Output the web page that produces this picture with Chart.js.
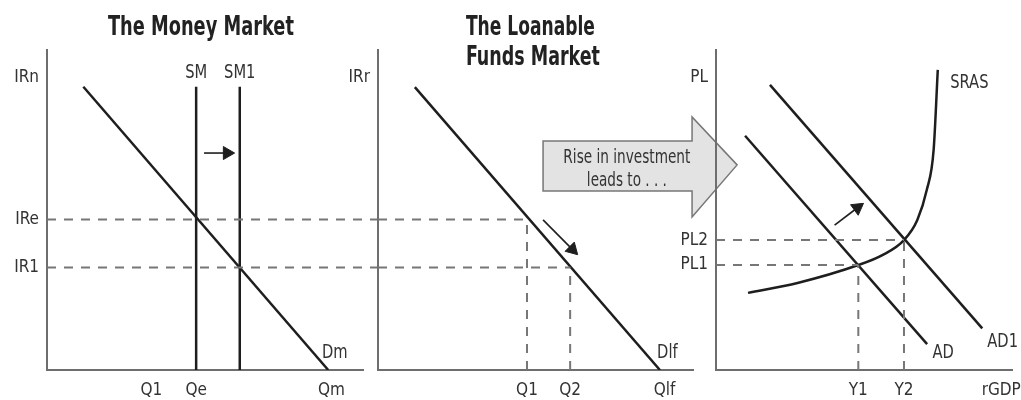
<!DOCTYPE html>
<html>
<head>
<meta charset="utf-8">
<script src="https://cdn.jsdelivr.net/npm/chart.js@4.4.0/dist/chart.umd.min.js"></script>
<style>
  body { margin: 0; background: #fff; }
  #wrap { position: relative; width: 1021px; height: 400px; }
  #wrap canvas { position: absolute; left: 0; top: 0; }
</style>
</head>
<body>
<div id="wrap">
  <canvas id="money" width="1021" height="400"></canvas>
  <canvas id="loanable" width="1021" height="400"></canvas>
  <canvas id="adas" width="1021" height="400"></canvas>
</div>
<script>
// --- money market ---
var moneyXLabels = ['Q1', 'Qe', 'Qm'];
var moneyXValues = [3.3, 4.72, 9.0];
var moneyYLabels = ['IRn', 'IRe', 'IR1'];
var moneyYValues = [9.15, 4.7, 3.2];
var moneyDemand = [[1.15, 8.85], [8.9, 0]];
var moneySupply = [4.72, 6.1];          // SM, SM1
var moneySupplyTop = 8.85;

// --- loanable funds market ---
var fundsXLabels = ['Q1', 'Q2', 'Qlf'];
var fundsXValues = [4.73, 6.1, 9.1];
var fundsYLabels = ['IRr'];
var fundsYValues = [9.15];
var fundsDemand = [[1.17, 8.84], [8.95, 0]];

// --- AD / AS ---
var adasXLabels = ['Y1', 'Y2', 'rGDP'];
var adasXValues = [4.8, 6.34, 9.62];
var adasYLabels = ['PL', 'PL2', 'PL1'];
var adasYValues = [9.15, 4.06, 3.28];
var aggDemand = [[0.98, 7.32], [7.12, 0.81]];
var aggDemand1 = [[1.82, 8.91], [8.98, 1.3]];
var sras = [[1.08, 2.41], [2.75, 2.72], [4.8, 3.28], [5.61, 3.59], [6.34, 4.06],
            [6.79, 4.69], [7.11, 5.63], [7.34, 6.88], [7.48, 9.38]];

var FONT = "'Liberation Sans Narrow', 'DejaVu Sans Condensed', sans-serif";
var INK = '#1e1e1e';
var TEXT = '#333';
var DASH = '#777';

function pts(list) {
  return list.map(function (p) { return { x: p[0], y: p[1] }; });
}

function curve(list, extra) {
  return Object.assign({
    data: pts(list), showLine: true, borderColor: INK, borderWidth: 2.5,
    pointRadius: 0, tension: 0, fill: false
  }, extra || {});
}

function guide(list) {
  return curve(list, { borderColor: DASH, borderWidth: 2, borderDash: [9, 8], clip: false });
}

// small shift arrow: line with a triangle head on the last point
function shiftArrow(list, angle) {
  return curve(list, {
    borderWidth: 1.6,
    pointRadius: [0, 7.5],
    pointStyle: 'triangle',
    rotation: [0, angle],
    pointBackgroundColor: INK,
    pointBorderColor: INK,
    pointBorderWidth: 1
  });
}

// text at data coordinates; "width" squeezes the string horizontally to a set width,
// otherwise a fixed squeeze gives the narrow look
var textPlugin = {
  id: 'panelText',
  afterDraw: function (chart, args, opts) {
    var ctx = chart.ctx, sx = chart.scales.x, sy = chart.scales.y;
    (opts.items || []).forEach(function (t) {
      ctx.save();
      ctx.font = t.font || ('19px ' + FONT);
      ctx.fillStyle = t.color || TEXT;
      ctx.textAlign = t.align || 'left';
      ctx.textBaseline = 'alphabetic';
      var k = t.width ? t.width / ctx.measureText(t.text).width : 0.86;
      ctx.translate(sx.getPixelForValue(t.x), sy.getPixelForValue(t.y));
      ctx.scale(k, 1);
      ctx.fillText(t.text, 0, 0);
      ctx.restore();
    });
  }
};

var blockArrowPlugin = {
  id: 'blockArrow',
  beforeDatasetsDraw: function (chart, args, opts) {
    if (!opts.shape) return;
    var ctx = chart.ctx, sx = chart.scales.x, sy = chart.scales.y;
    ctx.save();
    ctx.beginPath();
    opts.shape.forEach(function (p, i) {
      var px = sx.getPixelForValue(p[0]), py = sy.getPixelForValue(p[1]);
      if (i === 0) ctx.moveTo(px, py); else ctx.lineTo(px, py);
    });
    ctx.closePath();
    ctx.fillStyle = '#e3e3e3';
    ctx.fill();
    ctx.lineWidth = 1.5;
    ctx.strokeStyle = '#777';
    ctx.stroke();
    ctx.restore();
  }
};

function panel(id, area, xLabels, xValues, yLabels, yValues, datasets, texts, arrow) {
  var tickFont = { family: FONT, size: 17 };
  return new Chart(document.getElementById(id), {
    type: 'scatter',
    data: { datasets: datasets },
    options: {
      responsive: false,
      animation: false,
      events: [],
      layout: { padding: { left: 0, top: area.top, right: 1021 - area.right, bottom: 0 } },
      scales: {
        x: {
          type: 'linear', min: 0, max: 10,
          grid: { display: false, drawTicks: false },
          border: { display: true, color: '#6e6e6e', width: 2 },
          afterBuildTicks: function (s) { s.ticks = xValues.map(function (v) { return { value: v }; }); },
          afterFit: function (s) { s.height = 400 - area.bottom; s.paddingLeft = 0; s.paddingRight = 0; },
          ticks: {
            autoSkip: false, maxRotation: 0, padding: 10, color: TEXT, font: tickFont,
            callback: function (v, i) { return xLabels[i]; }
          }
        },
        y: {
          type: 'linear', min: 0, max: 10,
          grid: { display: false, drawTicks: false },
          border: { display: true, color: '#6e6e6e', width: 2 },
          afterBuildTicks: function (s) { s.ticks = yValues.map(function (v) { return { value: v }; }); },
          afterFit: function (s) { s.width = area.left; s.paddingTop = 0; s.paddingBottom = 0; },
          ticks: {
            autoSkip: false, padding: 8, color: TEXT, font: tickFont,
            callback: function (v, i) { return yLabels[i]; }
          }
        }
      },
      plugins: {
        legend: { display: false },
        tooltip: { enabled: false },
        panelText: { items: texts },
        blockArrow: { shape: arrow || null }
      }
    },
    plugins: [blockArrowPlugin, textPlugin]
  });
}

var titleFont = 'bold 27px ' + FONT;
var IRe = moneyYValues[1], IR1 = moneyYValues[2];

panel('money', { left: 47, right: 363, top: 50, bottom: 370 },
  moneyXLabels, moneyXValues, moneyYLabels, moneyYValues,
  [
    guide([[0, IRe], [10.5, IRe]]),
    guide([[0, IR1], [10.5, IR1]]),
    curve(moneyDemand),
    curve([[moneySupply[0], 0], [moneySupply[0], moneySupplyTop]]),
    curve([[moneySupply[1], 0], [moneySupply[1], moneySupplyTop]]),
    shiftArrow([[4.97, 6.78], [5.7, 6.78]], 90)
  ],
  [
    { text: 'The Money Market', x: 4.87, y: 10.47, align: 'center', font: titleFont, color: '#222', width: 186 },
    { text: 'SM', x: moneySupply[0], y: 9.13, align: 'center' },
    { text: 'SM1', x: moneySupply[1], y: 9.13, align: 'center' },
    { text: 'Dm', x: 8.7, y: 0.375 }
  ]);

var Q1 = fundsXValues[0], Q2 = fundsXValues[1];
panel('loanable', { left: 378, right: 693, top: 50, bottom: 370 },
  fundsXLabels, fundsXValues, fundsYLabels, fundsYValues,
  [
    guide([[0, IRe], [Q1, IRe]]),
    guide([[0, IR1], [Q2, IR1]]),
    guide([[Q1, 0], [Q1, IRe]]),
    guide([[Q2, 0], [Q2, IR1]]),
    curve(fundsDemand),
    shiftArrow([[5.24, 4.69], [6.17, 3.77]], 135)
  ],
  [
    { text: 'The Loanable', x: 2.79, y: 10.47, font: titleFont, color: '#222', width: 129 },
    { text: 'Funds Market', x: 2.79, y: 9.53, font: titleFont, color: '#222', width: 134 },
    { text: 'Dlf', x: 8.86, y: 0.375 },
    { text: 'Rise in investment', x: 7.9, y: 6.47, align: 'center', font: '20px ' + FONT, width: 127 },
    { text: 'leads to . . .', x: 7.9, y: 5.76, align: 'center', font: '20px ' + FONT, width: 80 }
  ],
  [[5.24, 7.16], [9.97, 7.16], [9.97, 7.91], [11.4, 6.41], [9.97, 4.78], [9.97, 5.59], [5.24, 5.59]]);

var Y1 = adasXValues[0], Y2 = adasXValues[1];
var PL2 = adasYValues[1], PL1 = adasYValues[2];
panel('adas', { left: 716, right: 1021, top: 50, bottom: 370 },
  adasXLabels, adasXValues, adasYLabels, adasYValues,
  [
    guide([[0, PL1], [Y1, PL1]]),
    guide([[0, PL2], [Y2, PL2]]),
    guide([[Y1, 0], [Y1, PL1]]),
    guide([[Y2, 0], [Y2, PL2]]),
    curve(aggDemand),
    curve(aggDemand1),
    curve(sras, { cubicInterpolationMode: 'monotone' }),
    shiftArrow([[4.0, 4.53], [4.77, 5.07]], 54)
  ],
  [
    { text: 'SRAS', x: 7.9, y: 8.81 },
    { text: 'AD', x: 7.3, y: 0.375 },
    { text: 'AD1', x: 9.15, y: 0.72 }
  ]);
</script>
</body>
</html>
